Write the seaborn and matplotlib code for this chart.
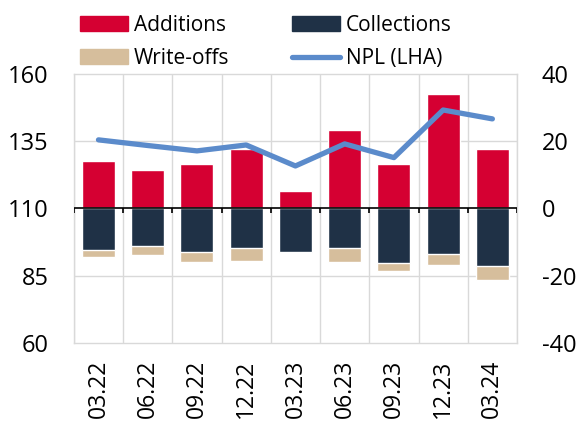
import numpy as np
import matplotlib
matplotlib.use("Agg")
import matplotlib.pyplot as plt
import seaborn as sns
from matplotlib.patches import Patch
from matplotlib.lines import Line2D

quarters = ["03.22", "06.22", "09.22", "12.22", "03.23", "06.23", "09.23", "12.23", "03.24"]
additions = [14.0, 11.3, 13.3, 17.8, 5.1, 23.2, 13.1, 34.1, 17.8]
collections = [-12.3, -11.3, -12.8, -11.7, -12.9, -11.7, -16.2, -13.4, -17.2]
write_offs = [-2.2, -2.5, -3.0, -3.9, -0.3, -4.1, -2.3, -3.3, -4.2]
npl = [135.5, 133.4, 131.4, 133.6, 125.8, 134.0, 128.9, 146.6, 143.3]

c_add = "#D50032"
c_col = "#1F3146"
c_wo = "#D6BE9C"
c_npl = "#5B8BCB"
c_grid = "#D9D9D9"

sns.set_style("white")
plt.rcParams["font.family"] = ["Open Sans", "DejaVu Sans"]
plt.rcParams["font.size"] = 17
plt.rcParams["axes.unicode_minus"] = False
plt.rcParams["text.color"] = "black"
plt.rcParams["xtick.color"] = "black"
plt.rcParams["ytick.color"] = "black"

fig = plt.figure(figsize=(5.77, 4.25), dpi=100)
ax = fig.add_axes([0.128, 0.193, 0.768, 0.633])

# bars (right-hand axis)
neg_total = np.array(collections) + np.array(write_offs)
sns.barplot(x=quarters, y=additions, color=c_add, saturation=1, width=0.67, ax=ax, zorder=2)
sns.barplot(x=quarters, y=neg_total, color=c_wo, saturation=1, width=0.67, ax=ax, zorder=2)
sns.barplot(x=quarters, y=collections, color=c_col, saturation=1, width=0.67, ax=ax, zorder=2)
ax.set_ylim(-40, 40)
ax.set_xlim(-0.5, len(quarters) - 0.5)
ax.set_yticks([-40, -20, 0, 20, 40])

# grid
bounds = np.arange(len(quarters) + 1) - 0.5
ax.set_xticks(bounds, minor=True)
ax.grid(True, which="minor", axis="x", color=c_grid, lw=1, zorder=0)
for v in [-20, 20]:
    ax.axhline(v, color=c_grid, lw=1, zorder=0)
ax.axhline(0, color="black", lw=1.2, zorder=3)
ax.vlines(bounds, -1.3, 0, color="black", lw=1.2, zorder=3)

ax.tick_params(axis="x", which="both", length=0, labelsize=16.5)
ax.tick_params(axis="x", which="major", pad=12)
ax.set_xticks(range(len(quarters)))
ax.set_xticklabels(quarters, rotation=90, va="top")
ax.set_xlabel("")
for s in ax.spines.values():
    s.set_color(c_grid)
    s.set_linewidth(1)

# NPL line (left-hand axis)
ax2 = ax.twinx()
sns.lineplot(x=np.arange(len(quarters)), y=npl, color=c_npl, lw=3.8, ax=ax2, zorder=4)
ax2.set_ylim(60, 160)
ax2.set_yticks([60, 85, 110, 135, 160])
for s in ax2.spines.values():
    s.set_visible(False)

# swap sides: bars' scale on the right, NPL on the left
ax.yaxis.tick_right()
ax.yaxis.set_label_position("right")
ax.tick_params(axis="y", length=0, pad=18)
for lab in ax.get_yticklabels():
    lab.set_horizontalalignment("left")
ax2.yaxis.tick_left()
ax2.yaxis.set_label_position("left")
ax2.tick_params(axis="y", length=0, pad=18)

handles = [
    Patch(color=c_add, label="Additions"),
    Patch(color=c_wo, label="Write-offs"),
    Patch(color=c_col, label="Collections"),
    Line2D([], [], color=c_npl, lw=3.8, label="NPL (LHA)"),
]
fig.legend(handles=handles, ncol=2, loc="upper center", bbox_to_anchor=(0.461, 1.01),
           frameon=False, handlelength=2.3, handleheight=0.75, columnspacing=3.0,
           handletextpad=0.3, labelspacing=0.6, fontsize=15)

fig.savefig("out.png", dpi=100)
